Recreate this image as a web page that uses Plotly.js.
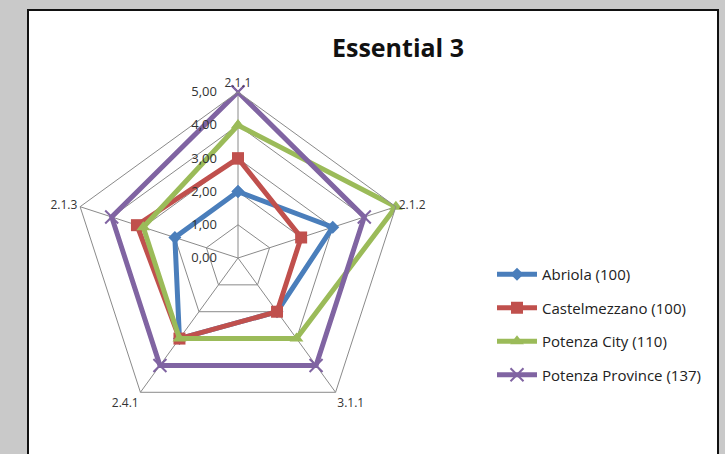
<!DOCTYPE html>
<html>
<head>
<meta charset="utf-8">
<script src="https://cdn.plot.ly/plotly-3.0.1.min.js"></script>
<style>
  html, body { margin:0; padding:0; background:#c9c9c9; }
  #chart { width:725px; height:454px; }
</style>
</head>
<body>
<div id="chart"></div>
<script>
const categories = ["2.1.1", "2.1.2", "3.1.1", "2.4.1", "2.1.3"];
const seriesNames = ["Abriola (100)", "Castelmezzano (100)", "Potenza City (110)", "Potenza Province (137)"];
const abriola = [2, 3, 2, 3, 2];
const castelmezzano = [3, 2, 2, 3, 3.2];
const potenzaCity = [4, 5, 3, 3, 3];
const potenzaProvince = [5, 4, 4, 4, 4];
const radialTicks = [0, 1, 2, 3, 4, 5];
const radialTickLabels = ["0,00", "1,00", "2,00", "3,00", "4,00", "5,00"];

const allSeries = [abriola, castelmezzano, potenzaCity, potenzaProvince];
const colors = ["#4A7EBB", "#C0504D", "#9BBB59", "#8064A2"];
const symbols = ["diamond", "square", "triangle-up", "x-thin"];
const msizes = [10, 12, 12, 13];

const traces = allSeries.map((vals, i) => {
  const closed = vals.concat([vals[0]]);
  const cats = categories.concat([categories[0]]);
  const marker = { symbol: symbols[i], size: msizes[i], color: colors[i] };
  if (symbols[i] === "x-thin") marker.line = { color: colors[i], width: 2 };
  return {
    type: "scatterpolar",
    mode: "lines+markers",
    r: closed,
    theta: cats,
    name: seriesNames[i],
    legendgroup: "g" + i,
    line: { color: colors[i], width: 5 },
    marker: marker
  };
});

const W = 725, H = 454;
const cx = 238, cy = 258, R = 166;

const layout = {
  width: W, height: H,
  margin: { l: 0, r: 0, t: 0, b: 0 },
  paper_bgcolor: "#c9c9c9",
  font: { family: "Open Sans, Liberation Sans, sans-serif", color: "#333" },
  title: {
    text: "<b>Essential 3</b>",
    x: 398 / W, xanchor: "center",
    y: 1 - 48 / H, yanchor: "middle",
    font: { size: 25, color: "#111", family: "Open Sans, Liberation Sans, sans-serif" }
  },
  shapes: [{
    type: "rect", xref: "paper", yref: "paper", layer: "below",
    x0: 28 / W, x1: 718 / W, y0: -0.05, y1: 1 - 10 / H,
    fillcolor: "#ffffff", line: { color: "#111", width: 2 }
  }],
  polar: {
    domain: { x: [(cx - R) / W, (cx + R) / W], y: [(H - cy - R) / H, (H - cy + R) / H] },
    bgcolor: "rgba(0,0,0,0)",
    gridshape: "linear",
    angularaxis: {
      rotation: 90, direction: "clockwise",
      showline: true, linecolor: "#8a8a8a", linewidth: 1,
      gridcolor: "#8a8a8a", gridwidth: 1,
      ticks: "", tickfont: { size: 12, color: "#333" }
    },
    radialaxis: {
      range: [0, 5], angle: 90, side: "counterclockwise", tickangle: 90,
      tickvals: radialTicks, ticktext: radialTickLabels,
      showline: false, ticks: "outside", ticklen: 16, tickcolor: "rgba(0,0,0,0)",
      gridcolor: "#8a8a8a", gridwidth: 1,
      tickfont: { size: 13, color: "#333" }
    }
  },
  showlegend: true,
  legend: {
    x: 492 / W, xanchor: "left",
    y: 1 - 258 / H, yanchor: "top",
    traceorder: "grouped", tracegroupgap: 11,
    font: { size: 15, color: "#222" },
    bgcolor: "rgba(0,0,0,0)",
    itemwidth: 40
  }
};

Plotly.newPlot("chart", traces, layout, { displayModeBar: false, staticPlot: true });
</script>
</body>
</html>
